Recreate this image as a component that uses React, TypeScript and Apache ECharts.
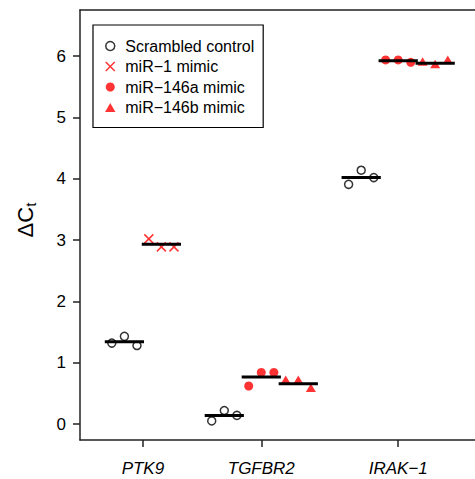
import React, { useEffect, useRef } from 'react';
import * as echarts from 'echarts';

// ---- data ----
const seriesNames = ['Scrambled control', 'miR\u22121 mimic', 'miR\u2212146a mimic', 'miR\u2212146b mimic'];
const geneNames = ['PTK9', 'TGFBR2', 'IRAK\u22121'];
const geneTickX = [1.5, 4.7, 8.4];
const yTicks = [0, 1, 2, 3, 4, 5, 6];

// position of each group on the x axis and which treatment it is
const groupX = [1, 2, 3.7, 4.7, 5.7, 7.4, 8.4, 9.4];
const groupTreatment = [0, 1, 0, 2, 3, 0, 2, 3];

// replicate delta-Ct values
const ptk9Scrambled = [1.32, 1.43, 1.28];
const ptk9MiR1 = [3.02, 2.89, 2.89];
const tgfbr2Scrambled = [0.05, 0.22, 0.14];
const tgfbr2MiR146a = [0.62, 0.84, 0.84];
const tgfbr2MiR146b = [0.7, 0.7, 0.57];
const irak1Scrambled = [3.91, 4.14, 4.02];
const irak1MiR146a = [5.94, 5.94, 5.9];
const irak1MiR146b = [5.89, 5.85, 5.92];

const groupValues = [
  ptk9Scrambled, ptk9MiR1,
  tgfbr2Scrambled, tgfbr2MiR146a, tgfbr2MiR146b,
  irak1Scrambled, irak1MiR146a, irak1MiR146b,
];
const jitter = [-0.34, 0, 0.34];
const meanHalfWidth = 0.53;

const FONT = '"Liberation Sans", Arial, Helvetica, sans-serif';
const RED = '#ff0000';
const AXIS = '#222';

export default function App() {
  const ref = useRef<HTMLDivElement>(null);
  useEffect(() => {
    if (!ref.current) return;
    const chart = echarts.init(ref.current, undefined, { renderer: 'svg' });

    const pointsByTreatment: number[][][] = seriesNames.map(() => []);
    groupValues.forEach((vals, g) => {
      vals.forEach((v, i) => {
        pointsByTreatment[groupTreatment[g]].push([groupX[g] + jitter[i], v]);
      });
    });
    const means = groupValues.map((vals, g) => [
      groupX[g],
      vals.reduce((a, b) => a + b, 0) / vals.length,
    ]);

    const symbolDefs: any[] = [
      { symbol: 'circle', icon: 'circle', symbolSize: 8, itemStyle: { color: 'transparent', borderColor: '#000', borderWidth: 1.5 } },
      { symbol: 'path://M0,0L10,10M10,0L0,10', icon: 'path://M0,0L10,10M10,0L0,10', symbolSize: 9, itemStyle: { color: 'transparent', borderColor: RED, borderWidth: 1.5 } },
      { symbol: 'circle', icon: 'circle', symbolSize: 9, itemStyle: { color: RED, borderWidth: 0 } },
      { symbol: 'triangle', icon: 'path://M5,0L10,8.66L0,8.66Z', symbolSize: [10, 8.5], symbolOffset: [0, -1.4], itemStyle: { color: RED, borderWidth: 0 } },
    ];

    chart.setOption({
      animation: false,
      grid: { left: 80, top: 10, right: 0, bottom: 39, show: false },
      xAxis: [
        {
          type: 'value', min: -0.2, max: 10.476, position: 'bottom',
          splitLine: { show: false },
          axisLine: { show: true, onZero: false, lineStyle: { color: AXIS, width: 1.5 } },
          axisTick: { show: true, length: 7, customValues: geneTickX, lineStyle: { color: AXIS, width: 1.5 } },
          axisLabel: {
            customValues: geneTickX, margin: 20,
            formatter: (v: number) => {
              const idx = geneTickX.findIndex((t) => Math.abs(t - v) < 1e-6);
              return idx >= 0 ? geneNames[idx] : '';
            },
            fontSize: 17, fontStyle: 'italic', fontFamily: FONT, color: '#000',
          },
        },
        {
          type: 'value', min: -0.2, max: 10.476, position: 'top',
          splitLine: { show: false },
          axisLine: { show: true, onZero: false, lineStyle: { color: AXIS, width: 1.5 } },
          axisTick: { show: false },
          axisLabel: { show: false },
        },
      ],
      yAxis: {
        type: 'value', min: -0.261, max: 6.754,
        name: '{a|\u0394C}{b|t}',
        nameLocation: 'middle',
        nameRotate: 90,
        nameGap: 42,
        nameTextStyle: {
          padding: [0, 0, 0, 10],
          rich: {
            a: { fontSize: 22, fontFamily: FONT, color: '#000', lineHeight: 26 },
            b: { fontSize: 15, fontFamily: FONT, color: '#000', lineHeight: 15, verticalAlign: 'bottom' },
          },
        },
        splitLine: { show: false },
        axisLine: { show: true, onZero: false, lineStyle: { color: AXIS, width: 1.5 } },
        axisTick: { show: true, length: 7, customValues: yTicks, lineStyle: { color: AXIS, width: 1.5 } },
        axisLabel: { customValues: yTicks, margin: 14, fontSize: 17, fontFamily: FONT, color: '#000' },
      },
      legend: {
        orient: 'vertical', left: 93, top: 25,
        padding: [13, 9, 12, 12],
        itemGap: 4.5, itemWidth: 20, itemHeight: 9,
        borderColor: '#000', borderWidth: 1.2,
        backgroundColor: '#fff',
        textStyle: { fontSize: 16, fontFamily: FONT, color: '#000' },
        data: seriesNames.map((n, i) => ({
          name: n,
          icon: symbolDefs[i].icon,
          itemStyle: symbolDefs[i].itemStyle,
        })),
        selectedMode: false,
      },
      series: [
        ...seriesNames.map((n, i) => ({
          name: n,
          type: 'scatter',
          data: pointsByTreatment[i],
          symbol: symbolDefs[i].symbol,
          symbolSize: symbolDefs[i].symbolSize,
          symbolOffset: symbolDefs[i].symbolOffset || [0, 0],
          itemStyle: symbolDefs[i].itemStyle,
          z: 2,
        })),
        {
          name: 'mean',
          type: 'custom',
          data: means,
          z: 3,
          renderItem: (_params: any, api: any) => {
            const p1 = api.coord([api.value(0) - meanHalfWidth, api.value(1)]);
            const p2 = api.coord([api.value(0) + meanHalfWidth, api.value(1)]);
            return {
              type: 'line',
              shape: { x1: p1[0], y1: p1[1], x2: p2[0], y2: p2[1] },
              style: { stroke: '#000', lineWidth: 3 },
            };
          },
        },
      ],
    });
    return () => chart.dispose();
  }, []);
  return (
    <div
      ref={ref}
      style={{ position: 'fixed', left: 0, top: 0, width: 475, height: 479, background: '#fff' }}
    />
  );
}
